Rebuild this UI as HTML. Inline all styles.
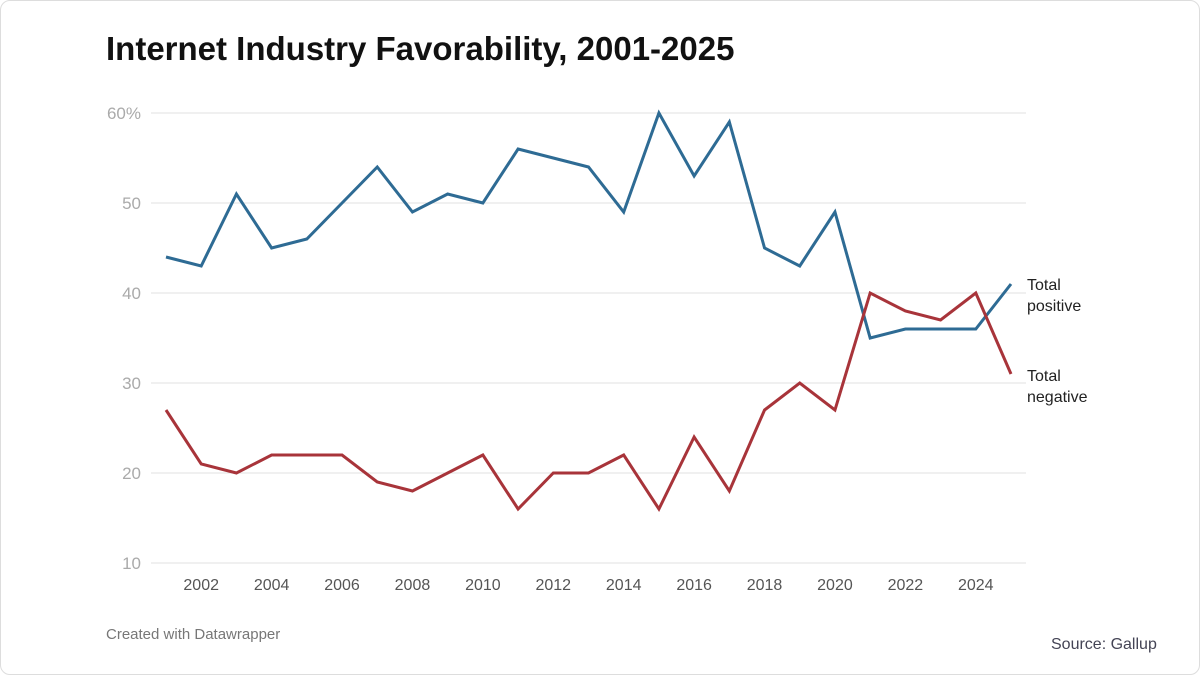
<!DOCTYPE html>
<html><head><meta charset="utf-8"><style>
body{margin:0;background:#fff;}
#wrap{position:relative;width:1198px;height:673px;border:1px solid #ddd;border-radius:10px;background:#fff;font-family:"Liberation Sans",sans-serif;overflow:hidden}
h1{position:absolute;left:105px;top:29px;margin:0;font-size:33px;font-weight:bold;color:#111;letter-spacing:0px}
.foot{position:absolute;font-size:15px;color:#777}
</style></head><body>
<div id="wrap">
<h1>Internet Industry Favorability, 2001-2025</h1>
<svg id="chart" width="1200" height="675" style="position:absolute;left:0;top:0"></svg>
<div class="foot" style="left:105px;top:625px">Created with Datawrapper</div>
<div class="foot" style="left:1050px;top:635px;font-size:16px;color:#445">Source: Gallup</div>
</div>
<script>
const years=[2001,2002,2003,2004,2005,2006,2007,2008,2009,2010,2011,2012,2013,2014,2015,2016,2017,2018,2019,2020,2021,2022,2023,2024,2025];
const positive=[44,43,51,45,46,50,54,49,51,50,56,55,54,49,60,53,59,45,43,49,35,36,36,36,41];
const negative=[27,21,20,22,22,22,19,18,20,22,16,20,20,22,16,24,18,27,30,27,40,38,37,40,31];
const yTicks=[10,20,30,40,50,60];
const xTicks=[2002,2004,2006,2008,2010,2012,2014,2016,2018,2020,2022,2024];
const NS="http://www.w3.org/2000/svg";
const svg=document.getElementById('chart');
const x=v=>165+(v-2001)*(1010-165)/24;
const y=v=>562-(v-10)*9;
function el(t,a){const e=document.createElementNS(NS,t);for(const k in a)e.setAttribute(k,a[k]);svg.appendChild(e);return e;}
yTicks.forEach(t=>{
 const l=el('line',{x1:150,x2:1025,y1:y(t),y2:y(t),stroke:'#e2e2e2','stroke-width':1});
 
 
 const tx=el('text',{x:140,y:y(t)+6,'text-anchor':'end','font-size':17,fill:'#aaa','font-family':'Liberation Sans, sans-serif'});
 tx.textContent=t===60?'60%':t;
 
 
});
xTicks.forEach(t=>{
 const tx=el('text',{x:x(t),y:589,'text-anchor':'middle','font-size':16,fill:'#555','font-family':'Liberation Sans, sans-serif'});
 tx.textContent=t;
 
 
});
function line(vals,color,name){
 const p=el('polyline',{points:vals.map((v,i)=>x(years[i])+','+y(v)).join(' '),fill:'none',stroke:color,'stroke-width':3,'stroke-linejoin':'miter'});
 
 
}
line(positive,'#2e6b94','line-total-positive');
line(negative,'#a8343a','line-total-negative');
function label(lines,yy,name){
 const t=el('text',{x:1026,y:yy,'font-size':16,fill:'#222','font-family':'Liberation Sans, sans-serif'});
 lines.forEach((s,i)=>{const ts=document.createElementNS(NS,'tspan');ts.setAttribute('x',1026);ts.setAttribute('dy',i?21:0);ts.textContent=s;t.appendChild(ts);});
 
 
}
label(['Total','positive'],289,'label-total-positive');
label(['Total','negative'],380,'label-total-negative');
</script>
</body></html>
